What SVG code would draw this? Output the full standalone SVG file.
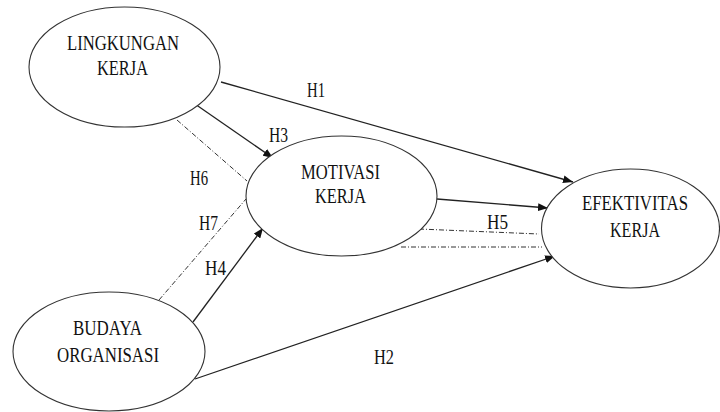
<svg xmlns="http://www.w3.org/2000/svg" width="720" height="412" viewBox="0 0 720 412">
<defs>
<style>
.node ellipse{fill:#fff;stroke:#333;stroke-width:1.1}
.t{font-family:"Liberation Serif","Times New Roman",serif;font-size:21px;fill:#111;text-anchor:middle}
.h{font-family:"Liberation Serif","Times New Roman",serif;font-size:20px;fill:#111;text-anchor:middle}
.solid{stroke:#222;stroke-width:1.3;fill:none}
.dd{stroke:#333;stroke-width:1;fill:none;stroke-dasharray:5 2 1 2}
</style>
<marker id="arr" viewBox="0 0 10 8" refX="10" refY="4" markerWidth="10" markerHeight="8" markerUnits="userSpaceOnUse" orient="auto">
<path d="M0,0 L10,4 L0,8 Z" fill="#111"/>
</marker>
</defs>
<rect width="720" height="412" fill="#fff"/>
<g id="connectors">
<line class="solid" x1="221" y1="82" x2="573" y2="182" marker-end="url(#arr)"/>
<line class="solid" x1="195" y1="104" x2="273" y2="158" marker-end="url(#arr)"/>
<line class="dd" x1="177" y1="120" x2="247" y2="181"/>
<line class="dd" x1="159" y1="300" x2="246" y2="199"/>
<line class="solid" x1="193" y1="322" x2="263" y2="228" marker-end="url(#arr)"/>
<line class="solid" x1="437" y1="199" x2="548" y2="208" marker-end="url(#arr)"/>
<line class="dd" x1="419" y1="229" x2="539" y2="234"/>
<line class="dd" x1="401" y1="247" x2="542" y2="247"/>
<line class="solid" x1="195" y1="379" x2="555" y2="256" marker-end="url(#arr)"/>
<text class="h" x="316" y="97" textLength="18" lengthAdjust="spacingAndGlyphs">H1</text>
<text class="h" x="278.5" y="142" textLength="19" lengthAdjust="spacingAndGlyphs">H3</text>
<text class="h" x="199" y="185" textLength="18" lengthAdjust="spacingAndGlyphs">H6</text>
<text class="h" x="208.5" y="230" textLength="19" lengthAdjust="spacingAndGlyphs">H7</text>
<text class="h" x="215.5" y="275" textLength="21" lengthAdjust="spacingAndGlyphs">H4</text>
<text class="h" x="497.5" y="229" textLength="21" lengthAdjust="spacingAndGlyphs">H5</text>
<text class="h" x="384" y="364" textLength="20" lengthAdjust="spacingAndGlyphs">H2</text>
</g>
<g id="lingkungan" class="node">
<ellipse cx="124.5" cy="67" rx="95.5" ry="60"/>
<text class="t" x="123" y="50" textLength="112" lengthAdjust="spacingAndGlyphs">LINGKUNGAN</text>
<text class="t" x="122.5" y="75" textLength="51" lengthAdjust="spacingAndGlyphs">KERJA</text>
</g>
<g id="motivasi" class="node">
<ellipse cx="341.5" cy="196" rx="95.5" ry="60"/>
<text class="t" x="340.5" y="179" textLength="79" lengthAdjust="spacingAndGlyphs">MOTIVASI</text>
<text class="t" x="340.5" y="203" textLength="51" lengthAdjust="spacingAndGlyphs">KERJA</text>
</g>
<g id="efektivitas" class="node">
<ellipse cx="630.5" cy="228.5" rx="89" ry="59.5"/>
<text class="t" x="635" y="210" textLength="106" lengthAdjust="spacingAndGlyphs">EFEKTIVITAS</text>
<text class="t" x="635" y="237" textLength="50" lengthAdjust="spacingAndGlyphs">KERJA</text>
</g>
<g id="budaya" class="node">
<ellipse cx="109" cy="351.5" rx="96" ry="59.5"/>
<text class="t" x="107.5" y="335" textLength="69" lengthAdjust="spacingAndGlyphs">BUDAYA</text>
<text class="t" x="108" y="362" textLength="102" lengthAdjust="spacingAndGlyphs">ORGANISASI</text>
</g>
</svg>
